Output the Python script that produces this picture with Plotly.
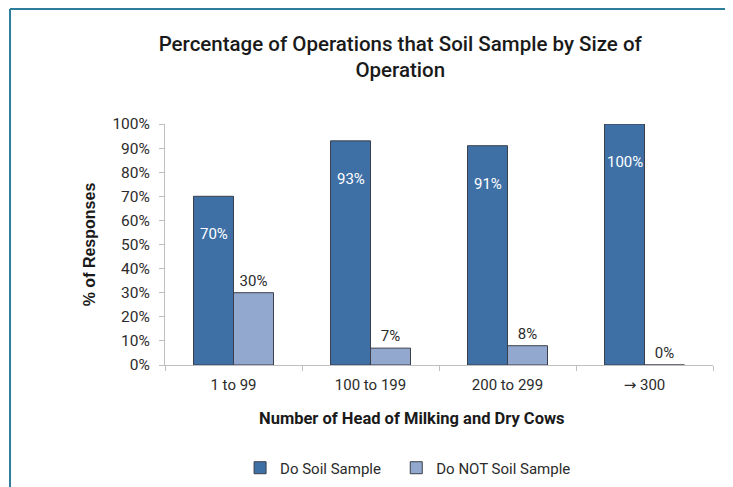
import plotly.graph_objects as go

categories = ["1 to 99", "100 to 199", "200 to 299", "\u2192 300"]
do_sample = [70, 93, 91, 100]
do_not_sample = [30, 7, 8, 0]
y_ticks = [0, 10, 20, 30, 40, 50, 60, 70, 80, 90, 100]
y_tick_text = [f"{v}%" for v in y_ticks]

DARK = "#3E70A6"
LIGHT = "#93A8CE"
TXT = "#2b2b2b"
FONT = "Roboto"

# tick text: render the arrow glyph in a font where it is full size
x_tick_text = [c.replace("\u2192", "<span style='font-family:DejaVu Sans'>\u2192</span>")
               for c in categories]

fig = go.Figure()
fig.add_trace(go.Bar(
    name="Do Soil Sample", x=categories, y=do_sample,
    marker=dict(color=DARK, line=dict(color="#3a3f4a", width=1)),
    legend="legend",
))
fig.add_trace(go.Bar(
    name="Do NOT Soil Sample", x=categories, y=do_not_sample,
    marker=dict(color=LIGHT, line=dict(color="#3a3f4a", width=1)),
    text=[f"{v}%" for v in do_not_sample], textposition="outside",
    textfont=dict(family=FONT, size=15, color=TXT), cliponaxis=False,
    legend="legend2",
))

for c, v in zip(categories, do_sample):
    fig.add_annotation(x=c, y=v, xref="x", yref="y", text=f"{v}%",
                       showarrow=False, xshift=-20, yshift=-38,
                       font=dict(family=FONT, size=15, color="white"))

fig.add_annotation(x=0.45, y=-0.22, xref="paper", yref="paper",
                   text="Number of Head of Milking and Dry Cows", showarrow=False,
                   xanchor="center", yanchor="middle",
                   font=dict(family=FONT, size=16.5, color="#1a1a1a", weight="bold"))

border = "#2F7D9C"
fig.add_shape(type="line", xref="paper", yref="paper", x0=-0.2828, x1=-0.2828,
              y0=1.477, y1=-0.6, line=dict(color=border, width=2))
fig.add_shape(type="line", xref="paper", yref="paper", x0=-0.2828, x1=1.2,
              y0=1.477, y1=1.477, line=dict(color=border, width=2))

legend_common = dict(orientation="h", yref="container", y=0.0397, xref="paper",
                     xanchor="left", yanchor="middle",
                     font=dict(family=FONT, size=15, color=TXT),
                     itemwidth=30, bgcolor="rgba(0,0,0,0)")

fig.update_layout(
    width=725, height=479,
    margin=dict(l=157, r=20, t=116, b=122, autoexpand=False),
    paper_bgcolor="white", plot_bgcolor="white",
    barmode="group", bargap=0.416, bargroupgap=0,
    title=dict(text="Percentage of Operations that Soil Sample by Size of<br>Operation",
               x=0.541, xanchor="center", y=0.911, yanchor="middle",
               font=dict(family=FONT, size=20.5, color="#1a1a1a", weight=500)),
    font=dict(family=FONT, size=15, color=TXT),
    showlegend=True,
    legend=dict(x=0.137, **legend_common),
    legend2=dict(x=0.422, **legend_common),
    xaxis=dict(showline=True, linecolor="#bfbfbf", linewidth=1, automargin=False,
               ticks="outside", tickson="boundaries", ticklen=5, tickcolor="#bfbfbf",
               ticklabelstandoff=6, tickvals=categories, ticktext=x_tick_text,
               tickfont=dict(family=FONT, size=15, color=TXT)),
    yaxis=dict(range=[0, 100], tickvals=y_ticks, ticktext=y_tick_text,
               showline=True, linecolor="#bfbfbf", linewidth=1, automargin=False,
               ticks="outside", ticklen=5, tickcolor="#bfbfbf", showgrid=False,
               zeroline=False, ticklabelstandoff=6,
               tickfont=dict(family=FONT, size=15.5, color=TXT),
               title=dict(text="% of Responses",
                          font=dict(family="Liberation Sans", size=16, color="#1a1a1a", weight="bold"),
                          standoff=12)),
)

fig.write_html("out.html")
